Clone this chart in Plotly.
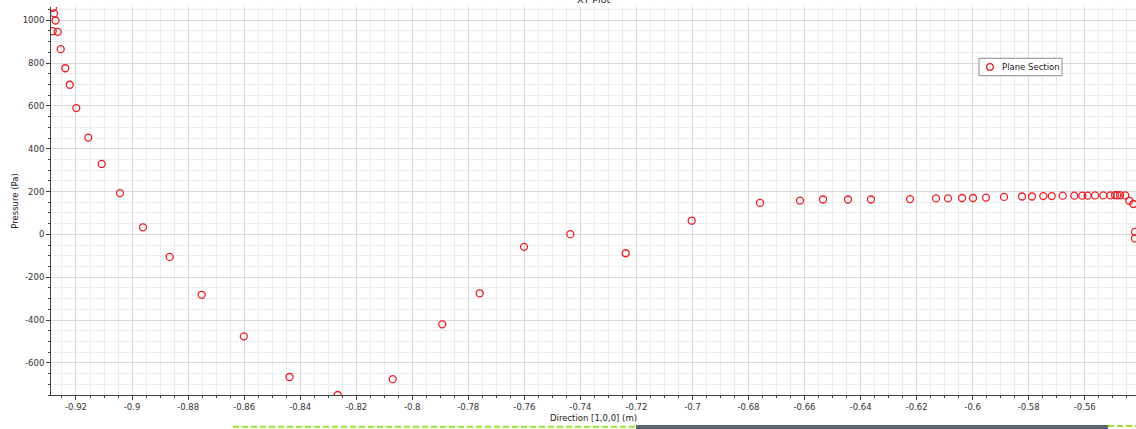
import plotly.graph_objects as go

# Pressure sampled along the plane section, direction [1,0,0]
direction_m = [
    -0.92821, -0.92785, -0.92732, -0.92832, -0.92653, -0.92546, -0.92382,
    -0.92225, -0.91989, -0.91561, -0.91083, -0.90430, -0.89609, -0.88656,
    -0.87514, -0.86011, -0.84380, -0.82660, -0.80697, -0.78927, -0.77592,
    -0.76011, -0.74359, -0.72382, -0.70027, -0.67589, -0.66162, -0.65341,
    -0.64449, -0.63628, -0.62236, -0.61308, -0.60879, -0.60380, -0.59987,
    -0.59522, -0.58880, -0.58239, -0.57882, -0.57479, -0.57178, -0.56786,
    -0.56372, -0.56085, -0.55894, -0.55633, -0.55337, -0.55087, -0.54919,
    -0.54838, -0.54741, -0.54552, -0.54409, -0.54266, -0.54205, -0.54205,
]
pressure_pa = [
    1058, 1032, 999, 949, 946, 865, 776,
    699, 590, 452, 329, 193, 33, -105,
    -282, -476, -666, -750, -676, -420, -275,
    -58, 1, -88, 64, 147, 158, 163,
    163, 163, 165, 168, 168, 170, 170,
    172, 175, 177, 177, 179, 179, 181,
    181, 181, 181, 182, 182, 182, 183,
    183, 183, 182, 157, 142, 12, -19,
]
series_name = "Plane Section"

x_tick_vals = [-0.92, -0.90, -0.88, -0.86, -0.84, -0.82, -0.80, -0.78, -0.76,
               -0.74, -0.72, -0.70, -0.68, -0.66, -0.64, -0.62, -0.60, -0.58, -0.56]
x_tick_text = ["-0.92", "-0.9", "-0.88", "-0.86", "-0.84", "-0.82", "-0.8", "-0.78", "-0.76",
               "-0.74", "-0.72", "-0.7", "-0.68", "-0.66", "-0.64", "-0.62", "-0.6", "-0.58", "-0.56"]
y_tick_vals = [-600, -400, -200, 0, 200, 400, 600, 800, 1000]
y_tick_text = ["-600", "-400", "-200", "0", "200", "400", "600", "800", "1000"]

FONT = "DejaVu Sans"
TEXT = "#333333"
AXIS = "#404040"
GRID_MAJOR = "#d9d9d9"
GRID_MINOR = "#ececec"
RED = "#ee1c24"

fig = go.Figure()
fig.add_trace(go.Scatter(
    x=direction_m, y=pressure_pa, mode="markers", name=series_name,
    marker=dict(symbol="circle-open", size=7, color=RED,
                line=dict(width=1.3, color=RED)),
    showlegend=False,
))

# compact legend box: frame, open-circle glyph and label (paper coordinates)
LEG_X0, LEG_X1, LEG_Y0, LEG_Y1 = 0.8553, 0.9318, 0.8229, 0.8678
LEG_MID = (LEG_Y0 + LEG_Y1) / 2
GLYPH_X = 0.8654
LABEL_X = 0.8745

fig.update_layout(
    width=1136, height=429,
    margin=dict(l=51, r=0, t=7, b=34),
    paper_bgcolor="white", plot_bgcolor="white",
    font=dict(family=FONT, size=8.5, color=TEXT),
    xaxis=dict(
        range=[-0.92892, -0.54170],
        tickmode="array", tickvals=x_tick_vals, ticktext=x_tick_text,
        ticks="outside", ticklen=4, tickcolor=AXIS, tickwidth=1,
        showline=True, linecolor=AXIS, linewidth=1, mirror=False,
        showgrid=True, gridcolor=GRID_MAJOR, gridwidth=1, zeroline=False,
        tickfont=dict(family=FONT, size=8.5, color=TEXT),
        minor=dict(tickmode="linear", tick0=0, dtick=0.005, ticks="outside",
                   ticklen=2, tickcolor=AXIS, showgrid=True,
                   gridcolor=GRID_MINOR, gridwidth=1),
        title=dict(text="Direction [1,0,0] (m)", standoff=3,
                   font=dict(family=FONT, size=8.5, color="#222222")),
    ),
    yaxis=dict(
        range=[-750, 1062],
        tickmode="array", tickvals=y_tick_vals, ticktext=y_tick_text,
        ticks="outside", ticklen=4, tickcolor=AXIS, tickwidth=1,
        showline=True, linecolor=AXIS, linewidth=1, mirror=False,
        showgrid=True, gridcolor=GRID_MAJOR, gridwidth=1, zeroline=False,
        tickfont=dict(family=FONT, size=8.5, color=TEXT),
        minor=dict(tickmode="linear", tick0=0, dtick=50, ticks="outside",
                   ticklen=2, tickcolor=AXIS, showgrid=True,
                   gridcolor=GRID_MINOR, gridwidth=1),
        title=dict(text="Pressure (Pa)", standoff=2,
                   font=dict(family=FONT, size=8.5, color="#222222")),
    ),
    annotations=[
        dict(text="XY Plot", xref="paper", yref="paper", x=0.5, y=1.0,
             xanchor="center", yanchor="bottom", showarrow=False,
             font=dict(family=FONT, size=9.5, color="#222222")),
        dict(text=series_name, xref="paper", yref="paper", x=LABEL_X, y=LEG_MID,
             xanchor="left", yanchor="middle", showarrow=False,
             font=dict(family=FONT, size=8.5, color="#222222")),
    ],
    shapes=[
        dict(type="rect", xref="paper", yref="paper", x0=LEG_X0, x1=LEG_X1,
             y0=LEG_Y0, y1=LEG_Y1, fillcolor="white",
             line=dict(color="#8a8a8a", width=1), layer="above"),
        dict(type="circle", xref="paper", yref="paper",
             xsizemode="pixel", ysizemode="pixel",
             xanchor=GLYPH_X, yanchor=LEG_MID,
             x0=-3.3, x1=3.3, y0=-3.3, y1=3.3,
             line=dict(color=RED, width=1.3), fillcolor="rgba(0,0,0,0)",
             layer="above"),
        # window strip along the bottom edge
        dict(type="rect", xref="paper", yref="paper", x0=0.5392, x1=0.9742,
             y0=-0.0885, y1=-0.0776, fillcolor="#5b6570", line=dict(width=0),
             layer="above"),
        dict(type="line", xref="paper", yref="paper", x0=0.1677, x1=0.5392,
             y0=-0.0820, y1=-0.0820, line=dict(color="#9be22e", width=2, dash="6px,3px"),
             layer="above"),
        dict(type="line", xref="paper", yref="paper", x0=0.9742, x1=1.0,
             y0=-0.0800, y1=-0.0800, line=dict(color="#9be22e", width=2, dash="6px,3px"),
             layer="above"),
    ],
)

fig.write_html("out.html")
